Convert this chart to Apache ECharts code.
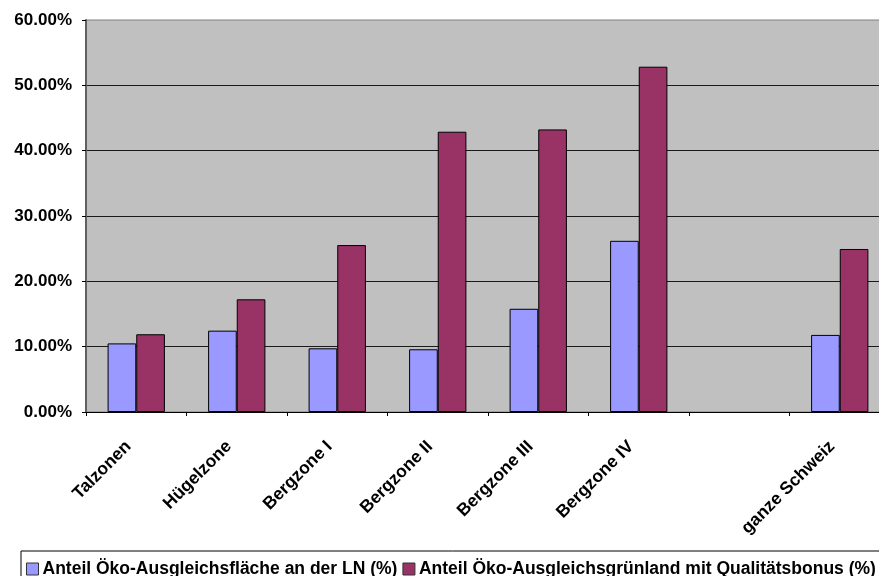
<!DOCTYPE html>
<html>
<head>
<meta charset="utf-8">
<script src="https://cdn.jsdelivr.net/npm/echarts@6/dist/echarts.min.js"></script>
<style>
  html, body { margin: 0; padding: 0; background: #ffffff; overflow: hidden; width: 879px; height: 576px; }
  /* the drawing surface runs a little past the right edge of the window */
  #chart { width: 900px; height: 576px; }
</style>
</head>
<body>
<div id="chart"></div>
<script>
// Zones (one empty slot before the national total)
const categories = ['Talzonen', 'Hügelzone', 'Bergzone I', 'Bergzone II', 'Bergzone III', 'Bergzone IV', '', 'ganze Schweiz'];

// Shares in percent
const anteilFlaeche = [10.5, 12.45, 9.75, 9.6, 15.8, 26.2, null, 11.8];
const anteilQualitaet = [11.9, 17.25, 25.55, 42.9, 43.25, 52.85, null, 24.95];

const seriesNames = [
  'Anteil Öko-Ausgleichsfläche an der LN (%)',
  'Anteil Öko-Ausgleichsgrünland mit Qualitätsbonus (%)'
];

const yTicks = { min: 0, max: 60, interval: 10 };

const font = 'Arial, "Liberation Sans", sans-serif';

const chart = echarts.init(document.getElementById('chart'), null, { renderer: 'canvas' });

chart.setOption({
  animation: false,
  backgroundColor: '#ffffff',
  grid: {
    left: 86,
    top: 20,
    width: 804,
    height: 392,
    show: true,
    backgroundColor: '#C0C0C0',
    borderColor: '#808080',
    borderWidth: 1
  },
  legend: {
    left: 21,
    top: 551,
    orient: 'horizontal',
    padding: [9, 8, 6, 5],
    borderColor: '#000000',
    borderWidth: 1,
    backgroundColor: '#ffffff',
    itemWidth: 12,
    itemHeight: 12,
    itemGap: 5,
    icon: 'rect',
    itemStyle: { borderColor: '#333333', borderWidth: 1 },
    textStyle: { fontFamily: font, fontWeight: 'bold', fontSize: 17.5, color: '#000000', padding: [0, 0, 0, -1] },
    data: seriesNames
  },
  xAxis: {
    type: 'category',
    data: categories,
    axisLine: { lineStyle: { color: '#000000', width: 1 } },
    axisTick: { show: true, length: 4, lineStyle: { color: '#000000' } },
    axisLabel: {
      rotate: 45,
      margin: 24,
      padding: [0, 11, 0, 0],
      interval: 0,
      fontFamily: font,
      fontWeight: 'bold',
      fontSize: 17.5,
      color: '#000000'
    }
  },
  yAxis: {
    type: 'value',
    min: yTicks.min,
    max: yTicks.max,
    interval: yTicks.interval,
    axisLine: { show: true, lineStyle: { color: '#606060', width: 2 } },
    axisTick: { show: true, length: 4, lineStyle: { color: '#000000' } },
    axisLabel: {
      margin: 14,
      fontFamily: font,
      fontWeight: 'bold',
      fontSize: 17,
      color: '#000000',
      formatter: v => v.toFixed(2) + '%'
    },
    splitLine: {
      show: true,
      showMinLine: false,
      showMaxLine: false,
      lineStyle: { color: '#1a1a1a', width: 1 }
    }
  },
  series: [
    {
      name: seriesNames[0],
      type: 'bar',
      data: anteilFlaeche,
      barGap: '0%',
      barCategoryGap: '43%',
      itemStyle: { color: '#9999FF', borderColor: '#000000', borderWidth: 1 }
    },
    {
      name: seriesNames[1],
      type: 'bar',
      data: anteilQualitaet,
      barGap: '0%',
      barCategoryGap: '43%',
      itemStyle: { color: '#993366', borderColor: '#000000', borderWidth: 1 }
    }
  ]
});
</script>
</body>
</html>
